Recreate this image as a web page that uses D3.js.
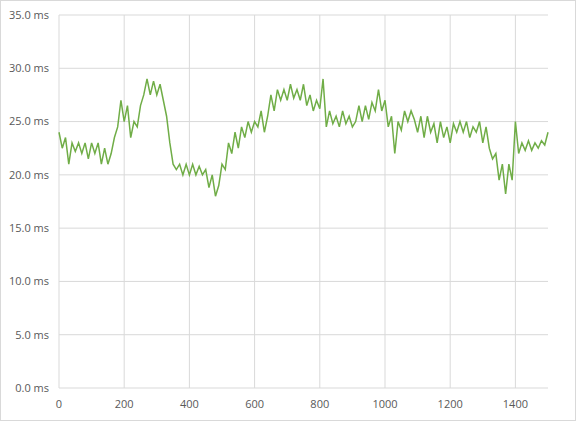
<!DOCTYPE html>
<html><head><meta charset="utf-8">
<script src="https://cdn.jsdelivr.net/npm/d3@7"></script>
<style>body{margin:0;background:#fff}</style>
</head><body>
<script>
"use strict";
const xStep = 10
const values = [
  24,22.5,23.5,21,23,22.2,23,22,23,21.5,
  23,22,23,21,22.5,21,22,23.5,24.5,27,
  25,26.5,23.5,25,24.5,26.5,27.5,29,27.5,28.8,
  27.5,28.5,27,25.5,23,21,20.5,21,20,21,
  20,21,20,20.8,20,20.5,18.8,20,18,19,
  21,20.5,23,22,24,22.5,24.5,23.5,25,24,
  25,24.5,26,24,25.5,27.5,26,28,27,28,
  27,28.5,27.2,28,27,28.5,26.5,27.5,26,27,
  26.2,29,24.5,26,24.8,25.5,24.5,26,24.8,25.5,
  24.5,25,26.5,25,26.5,25.2,26.8,26,28,26,
  27,24.5,25.5,22,25,24.2,26,25,26,25.2,
  24,25.5,23.5,25.5,24,24.8,23,25,23.5,24.5,
  23,24.8,24,25,24,25,23.5,24.5,24,25,
  23,24.5,22.5,21.5,22,19.5,21,18.2,21,19.5,
  25,22,23,22.3,23.2,22.3,23,22.5,23.2,22.8,24
]
const xTicks = [0,200,400,600,800,1000,1200,1400]
const yTicks = [0,5,10,15,20,25,30,35]

const m = {width:581, height:425, left:59, right:548, top:15, bottom:388}
const svg = d3.select("body").append("svg").attr("width", m.width).attr("height", m.height)
  .style("font-family", "'Open Sans', sans-serif").style("font-size", "11px")

svg.append("rect").attr("x",0.5).attr("y",0.5).attr("width",575).attr("height",420)
  .attr("fill","#fff").attr("stroke","#d9d9d9")

const x = d3.scaleLinear().domain([0,1500]).range([m.left, m.right])
const y = d3.scaleLinear().domain([0,35]).range([m.bottom, m.top])

svg.append("g").selectAll("line").data(yTicks).join("line")
  .attr("x1", m.left).attr("x2", m.right).attr("y1", d => y(d)).attr("y2", d => y(d))
  .attr("stroke","#d9d9d9")
svg.append("g").selectAll("line").data(xTicks).join("line")
  .attr("x1", d => x(d)).attr("x2", d => x(d)).attr("y1", m.top).attr("y2", m.bottom)
  .attr("stroke","#d9d9d9")

svg.append("g").selectAll("text").data(yTicks).join("text")
  .attr("x", 49).attr("y", d => y(d)).attr("dy","0.35em").attr("text-anchor","end")
  .attr("fill","#595959").text(d => d.toFixed(1) + " ms")
svg.append("g").selectAll("text").data(xTicks).join("text")
  .attr("x", d => x(d)).attr("y", 408).attr("text-anchor","middle")
  .attr("fill","#595959").text(d => d)

const line = d3.line().x((d,i) => x(i * xStep)).y(d => y(d))
svg.append("path").datum(values).attr("d", line)
  .attr("fill","none").attr("stroke","#70ad47").attr("stroke-width",1.5)
</script>
</body></html>
